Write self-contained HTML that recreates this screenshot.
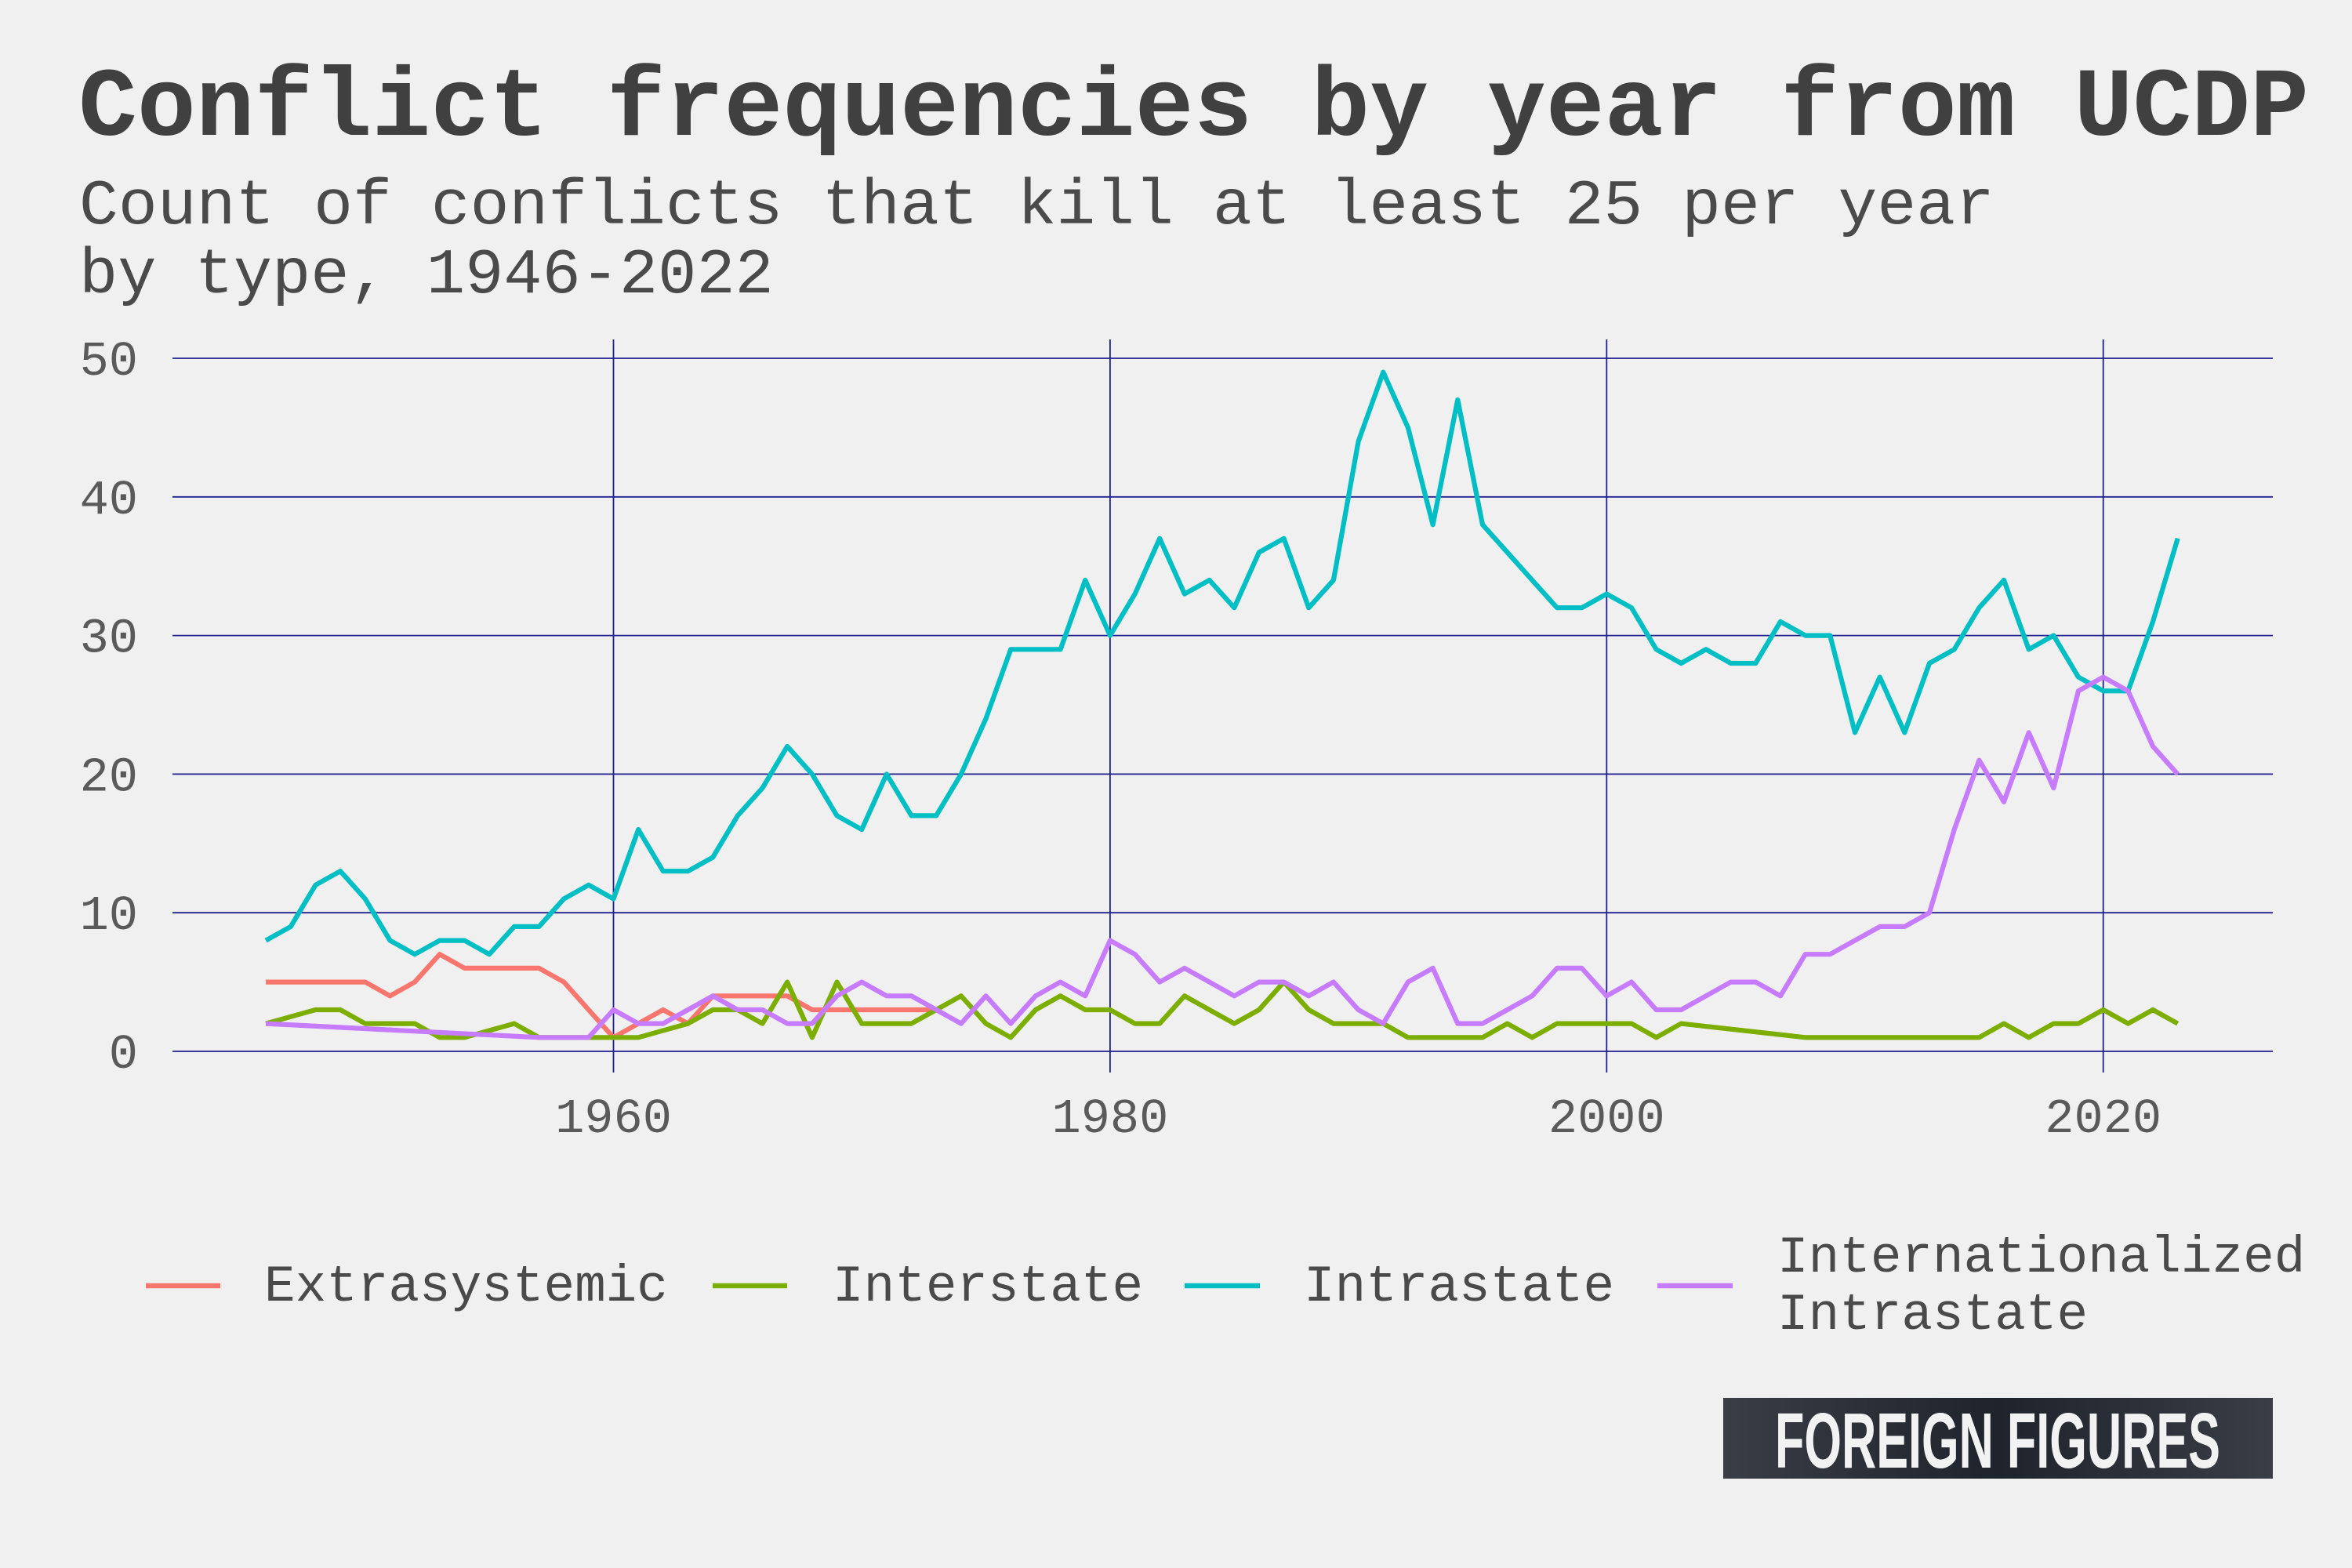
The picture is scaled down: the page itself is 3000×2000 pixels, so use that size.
<!DOCTYPE html>
<html><head><meta charset="utf-8"><style>
html,body{margin:0;padding:0;background:#f0f0f0;}
svg{display:block;}
text{font-family:"Liberation Mono",monospace;fill:#404040;}
</style></head><body>
<svg id="chart" width="3000" height="2000" viewBox="0 0 3000 2000" xmlns="http://www.w3.org/2000/svg">
<rect x="0" y="0" width="3000" height="2000" fill="#f0f0f0"/>
<text x="100" y="172" font-size="124" font-weight="bold" textLength="2845" lengthAdjust="spacingAndGlyphs">Conflict frequencies by year from UCDP</text>
<text x="101" y="285" font-size="82" style="fill:#4a4a4a" textLength="2443" lengthAdjust="spacingAndGlyphs">Count of conflicts that kill at least 25 per year</text>
<text x="101" y="373" font-size="82" style="fill:#4a4a4a">by type, 1946-2022</text>
<g id="grid"></g>
<g id="axes"></g>
<g id="series"></g>
<g id="legend">
  <line x1="186" y1="1640" x2="281" y2="1640" stroke="#f8766d" stroke-width="6.5"/>
  <text x="337" y="1659" font-size="66" style="fill:#4a4a4a">Extrasystemic</text>
  <line x1="909" y1="1640" x2="1004" y2="1640" stroke="#7cae00" stroke-width="6.5"/>
  <text x="1062" y="1659" font-size="66" style="fill:#4a4a4a">Interstate</text>
  <line x1="1511" y1="1640" x2="1607" y2="1640" stroke="#00bfc4" stroke-width="6.5"/>
  <text x="1663" y="1659" font-size="66" style="fill:#4a4a4a">Intrastate</text>
  <line x1="2114" y1="1640" x2="2210" y2="1640" stroke="#c77cff" stroke-width="6.5"/>
  <text x="2267" y="1622" font-size="66" style="fill:#4a4a4a">Internationalized</text>
  <text x="2267" y="1695" font-size="66" style="fill:#4a4a4a">Intrastate</text>
</g>
<g>
  <defs><linearGradient id="lg" x1="0" y1="0" x2="1" y2="0"><stop offset="0" stop-color="#3a3d45"/><stop offset="0.5" stop-color="#1f232b"/><stop offset="1" stop-color="#3a3d45"/></linearGradient></defs>
  <rect x="2198" y="1783" width="701" height="103" fill="url(#lg)"/>
  <text x="2264" y="1872" font-size="100" font-weight="bold" style="font-family:'Liberation Sans Narrow','Liberation Sans',sans-serif;fill:#f2f2f2" textLength="568" lengthAdjust="spacingAndGlyphs">FOREIGN FIGURES</text>
</g>
</svg>
<script>
const extraYears = [1946,1947,1948,1949,1950,1951,1952,1953,1954,1955,1956,1957,1958,1959,1960,1961,1962,1963,1964,1965,1966,1967,1968,1969,1970,1971,1972,1973];
const extraValues = [5,5,5,5,5,4,5,7,6,6,6,6,5,3,1,2,3,2,4,4,4,4,3,3,3,3,3,3];
const interYears = [1946,1948,1949,1950,1951,1952,1953,1954,1956,1957,1958,1959,1960,1961,1963,1964,1965,1966,1967,1968,1969,1970,1971,1972,1973,1974,1975,1976,1977,1978,1979,1980,1981,1982,1983,1984,1985,1986,1987,1988,1989,1990,1991,1992,1993,1994,1995,1996,1997,1998,1999,2000,2001,2002,2003,2008,2009,2010,2011,2012,2013,2014,2015,2016,2017,2018,2019,2020,2021,2022,2023];
const interValues = [2,3,3,2,2,2,1,1,2,1,1,1,1,1,2,3,3,2,5,1,5,2,2,2,3,4,2,1,3,4,3,3,2,2,4,3,2,3,5,3,2,2,2,1,1,1,1,2,1,2,2,2,2,1,2,1,1,1,1,1,1,1,1,2,1,2,2,3,2,3,2];
const intraYears = [];
for (let y = 1946; y <= 2023; y++) intraYears.push(y);
const intraValues = [8,9,12,13,11,8,7,8,8,7,9,9,11,12,11,16,13,13,14,17,19,22,20,17,16,20,17,17,20,24,29,29,29,34,30,33,37,33,34,32,36,37,32,34,44,49,45,38,47,38,36,34,32,32,33,32,29,28,29,28,28,31,30,30,23,27,23,28,29,32,34,29,30,27,26,26,31,37];
const intlYears = [1946,1957,1958,1959,1960,1961,1962,1963,1964,1965,1966,1967,1968,1969,1970,1971,1972,1973,1974,1975,1976,1977,1978,1979,1980,1981,1982,1983,1984,1985,1986,1987,1988,1989,1990,1991,1992,1993,1994,1995,1996,1997,1998,1999,2000,2001,2002,2003,2004,2005,2006,2007,2008,2009,2010,2011,2012,2013,2014,2015,2016,2017,2018,2019,2020,2021,2022,2023];
const intlValues = [2,1,1,1,3,2,2,3,4,3,3,2,2,4,5,4,4,3,2,4,2,4,5,4,8,7,5,6,5,4,5,5,4,5,3,2,5,6,2,2,3,4,6,6,4,5,3,3,4,5,5,4,7,7,8,9,9,10,16,21,18,23,19,26,27,26,22,20];
const yTicks = [0,10,20,30,40,50];
const xTicks = [1960,1980,2000,2020];

const NS = "http://www.w3.org/2000/svg";
const X0 = 220, X1 = 2899;
function xScale(yr){ return 782.5 + (yr - 1960) * 31.67; }
function yScale(v){ return 1341 - v * 17.68; }
function mk(tag, attrs, parent){ const e = document.createElementNS(NS, tag); for (const k in attrs) e.setAttribute(k, attrs[k]); parent.appendChild(e); return e; }

const grid = document.getElementById('grid');
const axes = document.getElementById('axes');
yTicks.forEach(t => {
  const l = mk('line', {x1:X0, x2:X1, y1:yScale(t), y2:yScale(t), stroke:'#1f1f8f', 'stroke-width':1.8}, grid);
  
  
  const tx = mk('text', {x:176, y:yScale(t)+21, 'font-size':62, 'text-anchor':'end', style:'fill:#5a5a5a'}, axes);
  tx.textContent = t;
  
  
});
xTicks.forEach(t => {
  const l = mk('line', {x1:xScale(t), x2:xScale(t), y1:433, y2:1368, stroke:'#1f1f8f', 'stroke-width':1.8}, grid);
  
  
  const tx = mk('text', {x:xScale(t), y:1444, 'font-size':62, 'text-anchor':'middle', style:'fill:#5a5a5a'}, axes);
  tx.textContent = t;
  
  
});

const series = document.getElementById('series');
function drawLine(years, vals, color, name){
  const d = years.map((y,i) => (i ? 'L' : 'M') + xScale(y).toFixed(1) + ' ' + yScale(vals[i]).toFixed(1)).join(' ');
  const p = mk('path', {d:d, fill:'none', stroke:color, 'stroke-width':6.2, 'stroke-linejoin':'round'}, series);
  
  
}
drawLine(intraYears, intraValues, '#00bfc4', 'intrastate-line');
drawLine(extraYears, extraValues, '#f8766d', 'extrasystemic-line');
drawLine(interYears, interValues, '#7cae00', 'interstate-line');
drawLine(intlYears, intlValues, '#c77cff', 'internationalized-intrastate-line');
</script>
</body></html>
